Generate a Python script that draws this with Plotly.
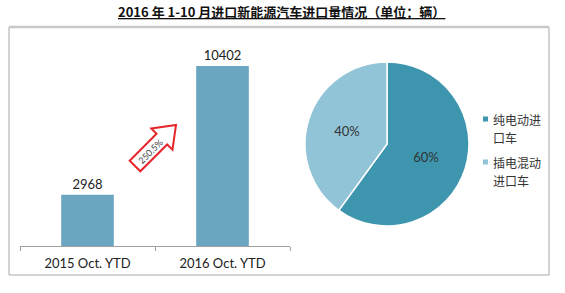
import numpy as np
import plotly.graph_objects as go

W, H = 565, 293

# ---- data ----
bar_categories = ["2015 Oct. YTD", "2016 Oct. YTD"]
bar_values = [2968, 10402]
growth_label = "250.5%"
pie_labels = ["纯电动进口车", "插电混动进口车"]
pie_values = [60, 40]
legend_lines = [["纯电动进", "口车"], ["插电混动", "进口车"]]
pie_colors = ["#3D95AE", "#92C4D7"]

title_text = "2016 年 1-10 月进口新能源汽车进口量情况（单位：辆）"

FONT_LAT = "Lato, 'Open Sans', sans-serif"
FONT_CJK = "'Noto Sans CJK SC', sans-serif"

def px(x):
    return x / W

def py(y):
    return 1 - y / H

fig = go.Figure()

fig.add_trace(go.Bar(
    x=bar_categories, y=bar_values,
    marker=dict(color="#6BA6C0", line=dict(width=0)),
    text=[str(v) for v in bar_values], textposition="outside",
    textfont=dict(family=FONT_LAT, size=13, color="#222222"),
    cliponaxis=False, showlegend=False, xaxis="x", yaxis="y",
))

fig.add_trace(go.Pie(
    labels=pie_labels, values=pie_values,
    marker=dict(colors=pie_colors, line=dict(color="white", width=1.5)),
    sort=False, direction="clockwise", rotation=0,
    textinfo="percent", texttemplate="%{percent:.0%}",
    textposition="inside", insidetextorientation="horizontal",
    textfont=dict(family=FONT_LAT, size=13, color="#333333"),
    domain=dict(x=[px(304), px(470)], y=[py(226), py(62)]),
    showlegend=False,
))

# arrow geometry (decoration)
T = np.array([135.0, 166.0])
u = np.array([1.0, -1.0]) / np.sqrt(2)
v = np.array([1.0, 1.0]) / np.sqrt(2)
Lt, Lh, w, h = 58, 20, 7.5, 15
pts = [T - w * v, T + (Lt - Lh) * u - w * v, T + (Lt - Lh) * u - h * v,
       T + Lt * u, T + (Lt - Lh) * u + h * v, T + (Lt - Lh) * u + w * v, T + w * v]
path = "M " + " L ".join(f"{px(p[0]):.5f},{py(p[1]):.5f}" for p in pts) + " Z"

shapes = [
    dict(type="path", path=path, xref="paper", yref="paper",
         line=dict(color="#E5262B", width=2), fillcolor="white"),
    # frame
    dict(type="line", xref="paper", yref="paper", x0=px(9), x1=px(9), y0=py(27), y1=py(275),
         line=dict(color="#A8A8A8", width=1)),
    dict(type="line", xref="paper", yref="paper", x0=px(549), x1=px(549), y0=py(27), y1=py(275),
         line=dict(color="#A8A8A8", width=1)),
    dict(type="line", xref="paper", yref="paper", x0=px(9), x1=px(549), y0=py(275), y1=py(275),
         line=dict(color="#A8A8A8", width=1)),
    dict(type="line", xref="paper", yref="paper", x0=px(9), x1=px(549), y0=py(27), y1=py(27),
         line=dict(color="#C8C8C8", width=2.5)),
]

annotations = [
    dict(text="<b><u>" + title_text + "</u></b>", x=px(281), y=py(11), xref="paper", yref="paper",
         showarrow=False, font=dict(family=FONT_CJK, size=13, color="#111111"),
         xanchor="center", yanchor="middle"),
    dict(text=growth_label, x=px(150), y=py(151), xref="paper", yref="paper",
         showarrow=False, textangle=-45, font=dict(family=FONT_LAT, size=9, color="#444444"),
         xanchor="center", yanchor="middle"),
]

# custom legend (squares + wrapped text)
leg_top = [119, 162]
for i, lines in enumerate(legend_lines):
    yc = leg_top[i]
    shapes.append(dict(type="rect", xref="paper", yref="paper",
                       x0=px(483), x1=px(488), y0=py(yc + 2.5), y1=py(yc - 2.5),
                       fillcolor=pie_colors[i], line=dict(width=0)))
    for j, t in enumerate(lines):
        annotations.append(dict(text=t, x=px(491), y=py(yc + 18 * j), xref="paper", yref="paper",
                                showarrow=False, xanchor="left", yanchor="middle",
                                font=dict(family=FONT_CJK, size=12, color="#333333")))

ymax = bar_values[1] / 180 * 200
fig.update_layout(
    width=W, height=H,
    margin=dict(l=0, r=0, t=0, b=0),
    paper_bgcolor="white", plot_bgcolor="white",
    xaxis=dict(domain=[px(20), px(290)], showgrid=False, showline=True, linecolor="#A0A0A0",
               linewidth=1, ticks="outside", tickson="boundaries", ticklen=4, tickcolor="#A0A0A0",
               ticklabelstandoff=5,
               tickfont=dict(family=FONT_LAT, size=13, color="#222222"), zeroline=False),
    yaxis=dict(domain=[py(246), py(46)], range=[0, ymax], visible=False),
    bargap=0.61,
    showlegend=False,
    shapes=shapes, annotations=annotations,
)

fig.write_html("out.html")
